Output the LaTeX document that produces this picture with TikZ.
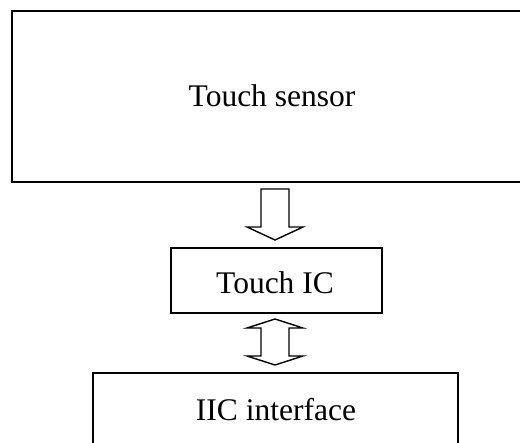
\documentclass[tikz,border=0pt]{standalone}
\usepackage{fontspec}
\setmainfont{Liberation Serif}
\begin{document}
\begin{tikzpicture}[x=1pt,y=-1pt,
  boxline/.style={draw=black,line width=1.3pt},
  lbl/.style={font=\fontsize{31.5}{36}\selectfont,anchor=base,inner sep=0pt},
  arrowshape/.style={draw=black,line width=1.4pt,fill=white,line join=miter}]
\useasboundingbox (0,0) rectangle (520,443);
\clip (0,0) rectangle (520,443);
% boxes
\draw[boxline,line width=1.8pt] (12,11) rectangle (540,182);
\node[lbl] (sensor) at (272,107) {Touch sensor};
\draw[boxline] (171,248) rectangle (382,313);
\node[lbl] (ic) at (275,294) {Touch IC};
\draw[boxline] (93,373) rectangle (458,460);
\node[lbl] (iic) at (276,421) {IIC interface};
% down arrow (sensor -> IC)
\draw[arrowshape] (261,189) -- (289,189) -- (289,227) -- (303,227) -- (275,240)
  -- (247,227) -- (261,227) -- cycle;
% double arrow (IC <-> IIC)
\draw[arrowshape] (275,319) -- (303,328) -- (289,328) -- (289,356) -- (303,356)
  -- (275,365) -- (247,356) -- (261,356) -- (261,328) -- (247,328) -- cycle;
\end{tikzpicture}
\end{document}
